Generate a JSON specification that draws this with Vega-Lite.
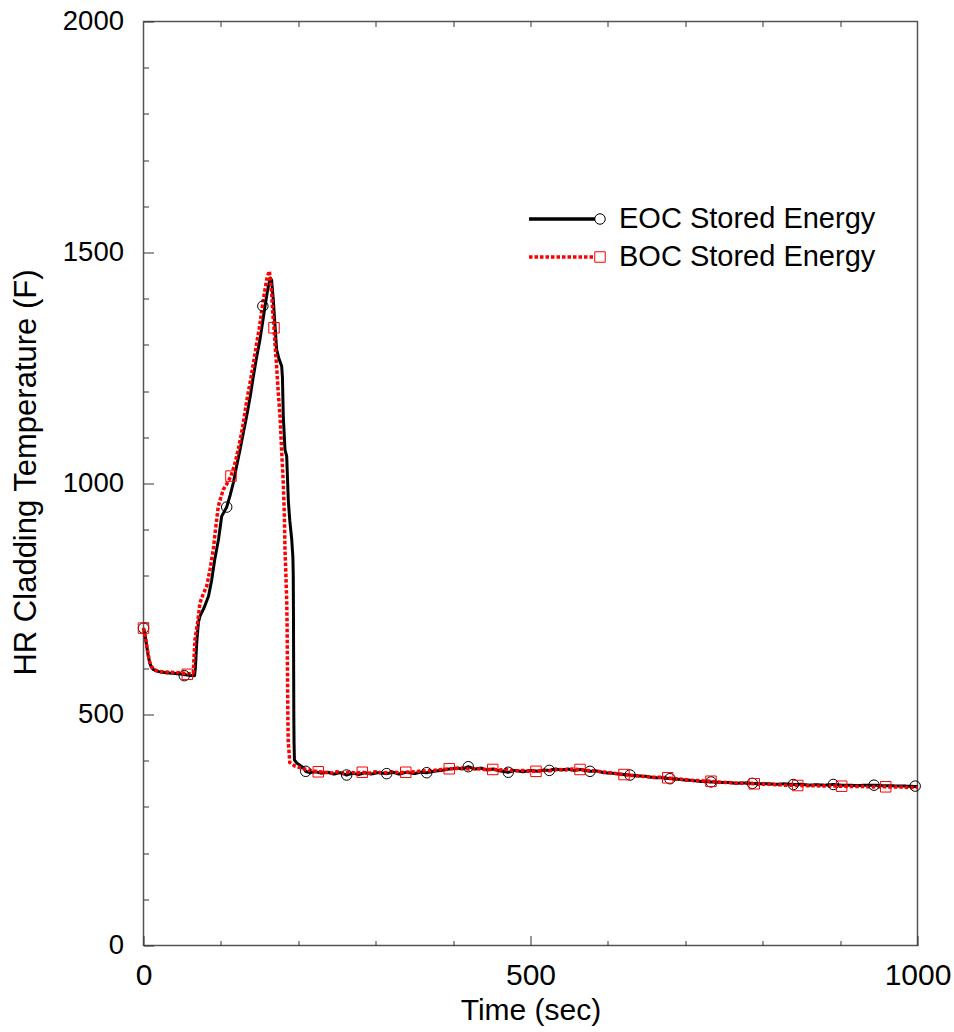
{
  "$schema": "https://vega.github.io/schema/vega-lite/v6.json",
  "width": 774,
  "height": 924,
  "autosize": "none",
  "padding": {"left": 143.5, "top": 21.5, "right": 36.5, "bottom": 86.5},
  "background": "white",
  "config": {
    "view": {"stroke": "#555", "strokeWidth": 1.5},
    "axis": {
      "labelFont": "Liberation Sans",
      "titleFont": "Liberation Sans",
      "labelColor": "black",
      "titleColor": "black",
      "titleFontWeight": "normal",
      "grid": false,
      "domain": false,
      "tickColor": "#333",
      "tickWidth": 1
    }
  },
  "datasets": {
    "eoc": [
      {"t": 0, "T": 687, "s": "EOC Stored Energy"}, {"t": 2, "T": 672, "s": "EOC Stored Energy"}, {"t": 4, "T": 650, "s": "EOC Stored Energy"},
      {"t": 6, "T": 628, "s": "EOC Stored Energy"}, {"t": 8, "T": 612, "s": "EOC Stored Energy"}, {"t": 10, "T": 603, "s": "EOC Stored Energy"},
      {"t": 13, "T": 597, "s": "EOC Stored Energy"}, {"t": 17, "T": 594, "s": "EOC Stored Energy"}, {"t": 22, "T": 592, "s": "EOC Stored Energy"},
      {"t": 30, "T": 590, "s": "EOC Stored Energy"}, {"t": 40, "T": 589, "s": "EOC Stored Energy"}, {"t": 50, "T": 587, "s": "EOC Stored Energy"},
      {"t": 58, "T": 585, "s": "EOC Stored Energy"}, {"t": 64, "T": 584, "s": "EOC Stored Energy"}, {"t": 66, "T": 584, "s": "EOC Stored Energy"},
      {"t": 67, "T": 600, "s": "EOC Stored Energy"}, {"t": 69, "T": 660, "s": "EOC Stored Energy"}, {"t": 71, "T": 700, "s": "EOC Stored Energy"},
      {"t": 73, "T": 713, "s": "EOC Stored Energy"}, {"t": 78, "T": 730, "s": "EOC Stored Energy"}, {"t": 84, "T": 756, "s": "EOC Stored Energy"},
      {"t": 88, "T": 790, "s": "EOC Stored Energy"}, {"t": 92, "T": 835, "s": "EOC Stored Energy"}, {"t": 97, "T": 880, "s": "EOC Stored Energy"},
      {"t": 101, "T": 929, "s": "EOC Stored Energy"}, {"t": 107.5, "T": 949, "s": "EOC Stored Energy"}, {"t": 112, "T": 975, "s": "EOC Stored Energy"},
      {"t": 116, "T": 1001, "s": "EOC Stored Energy"}, {"t": 120, "T": 1035, "s": "EOC Stored Energy"}, {"t": 124.7, "T": 1073, "s": "EOC Stored Energy"},
      {"t": 129, "T": 1110, "s": "EOC Stored Energy"}, {"t": 133.3, "T": 1146, "s": "EOC Stored Energy"}, {"t": 138, "T": 1190, "s": "EOC Stored Energy"},
      {"t": 141.9, "T": 1232, "s": "EOC Stored Energy"}, {"t": 146, "T": 1272, "s": "EOC Stored Energy"}, {"t": 150.5, "T": 1312, "s": "EOC Stored Energy"},
      {"t": 154, "T": 1350, "s": "EOC Stored Energy"}, {"t": 157, "T": 1384, "s": "EOC Stored Energy"}, {"t": 160, "T": 1415, "s": "EOC Stored Energy"},
      {"t": 162, "T": 1432, "s": "EOC Stored Energy"}, {"t": 164, "T": 1445, "s": "EOC Stored Energy"}, {"t": 165.5, "T": 1440, "s": "EOC Stored Energy"},
      {"t": 167.7, "T": 1398, "s": "EOC Stored Energy"}, {"t": 170, "T": 1340, "s": "EOC Stored Energy"}, {"t": 172, "T": 1290, "s": "EOC Stored Energy"},
      {"t": 175, "T": 1270, "s": "EOC Stored Energy"}, {"t": 178.5, "T": 1254, "s": "EOC Stored Energy"}, {"t": 179.5, "T": 1230, "s": "EOC Stored Energy"},
      {"t": 180.6, "T": 1146, "s": "EOC Stored Energy"}, {"t": 182.8, "T": 1073, "s": "EOC Stored Energy"}, {"t": 185, "T": 1059, "s": "EOC Stored Energy"},
      {"t": 187.1, "T": 963, "s": "EOC Stored Energy"}, {"t": 189, "T": 920, "s": "EOC Stored Energy"}, {"t": 191.5, "T": 879, "s": "EOC Stored Energy"},
      {"t": 193, "T": 840, "s": "EOC Stored Energy"}, {"t": 193.5, "T": 800, "s": "EOC Stored Energy"}, {"t": 193.8, "T": 700, "s": "EOC Stored Energy"},
      {"t": 194, "T": 600, "s": "EOC Stored Energy"}, {"t": 194.2, "T": 500, "s": "EOC Stored Energy"}, {"t": 194.5, "T": 440, "s": "EOC Stored Energy"},
      {"t": 195, "T": 402, "s": "EOC Stored Energy"}, {"t": 198, "T": 395, "s": "EOC Stored Energy"}, {"t": 203, "T": 389, "s": "EOC Stored Energy"},
      {"t": 206.5, "T": 385, "s": "EOC Stored Energy"}, {"t": 209.6, "T": 377, "s": "EOC Stored Energy"}, {"t": 215, "T": 374, "s": "EOC Stored Energy"},
      {"t": 222, "T": 376, "s": "EOC Stored Energy"}, {"t": 230, "T": 373, "s": "EOC Stored Energy"}, {"t": 238, "T": 375, "s": "EOC Stored Energy"},
      {"t": 246, "T": 371, "s": "EOC Stored Energy"}, {"t": 254, "T": 374, "s": "EOC Stored Energy"}, {"t": 262.5, "T": 369, "s": "EOC Stored Energy"},
      {"t": 270, "T": 373, "s": "EOC Stored Energy"}, {"t": 278, "T": 370, "s": "EOC Stored Energy"}, {"t": 286, "T": 374, "s": "EOC Stored Energy"},
      {"t": 294, "T": 371, "s": "EOC Stored Energy"}, {"t": 302, "T": 374, "s": "EOC Stored Energy"}, {"t": 314.2, "T": 372, "s": "EOC Stored Energy"},
      {"t": 322, "T": 375, "s": "EOC Stored Energy"}, {"t": 330, "T": 371, "s": "EOC Stored Energy"}, {"t": 340, "T": 375, "s": "EOC Stored Energy"},
      {"t": 350, "T": 372, "s": "EOC Stored Energy"}, {"t": 358, "T": 375, "s": "EOC Stored Energy"}, {"t": 365.9, "T": 374, "s": "EOC Stored Energy"},
      {"t": 375, "T": 377, "s": "EOC Stored Energy"}, {"t": 385, "T": 379, "s": "EOC Stored Energy"}, {"t": 395, "T": 382, "s": "EOC Stored Energy"},
      {"t": 405, "T": 384, "s": "EOC Stored Energy"}, {"t": 412, "T": 382, "s": "EOC Stored Energy"}, {"t": 419.6, "T": 387, "s": "EOC Stored Energy"},
      {"t": 428, "T": 382, "s": "EOC Stored Energy"}, {"t": 436, "T": 384, "s": "EOC Stored Energy"}, {"t": 444, "T": 380, "s": "EOC Stored Energy"},
      {"t": 452, "T": 382, "s": "EOC Stored Energy"}, {"t": 460, "T": 378, "s": "EOC Stored Energy"}, {"t": 471.3, "T": 375, "s": "EOC Stored Energy"},
      {"t": 480, "T": 379, "s": "EOC Stored Energy"}, {"t": 490, "T": 376, "s": "EOC Stored Energy"}, {"t": 500, "T": 379, "s": "EOC Stored Energy"},
      {"t": 510, "T": 377, "s": "EOC Stored Energy"}, {"t": 517, "T": 380, "s": "EOC Stored Energy"}, {"t": 524.3, "T": 379, "s": "EOC Stored Energy"},
      {"t": 532, "T": 382, "s": "EOC Stored Energy"}, {"t": 540, "T": 380, "s": "EOC Stored Energy"}, {"t": 548, "T": 382, "s": "EOC Stored Energy"},
      {"t": 556, "T": 379, "s": "EOC Stored Energy"}, {"t": 565, "T": 381, "s": "EOC Stored Energy"}, {"t": 576.9, "T": 377, "s": "EOC Stored Energy"},
      {"t": 585, "T": 378, "s": "EOC Stored Energy"}, {"t": 595, "T": 374, "s": "EOC Stored Energy"}, {"t": 605, "T": 373, "s": "EOC Stored Energy"},
      {"t": 615, "T": 371, "s": "EOC Stored Energy"}, {"t": 628.6, "T": 369, "s": "EOC Stored Energy"}, {"t": 640, "T": 367, "s": "EOC Stored Energy"},
      {"t": 650, "T": 366, "s": "EOC Stored Energy"}, {"t": 660, "T": 363, "s": "EOC Stored Energy"}, {"t": 670, "T": 363, "s": "EOC Stored Energy"},
      {"t": 680.2, "T": 361, "s": "EOC Stored Energy"}, {"t": 690, "T": 360, "s": "EOC Stored Energy"}, {"t": 700, "T": 358, "s": "EOC Stored Energy"},
      {"t": 710, "T": 357, "s": "EOC Stored Energy"}, {"t": 720, "T": 355, "s": "EOC Stored Energy"}, {"t": 733.2, "T": 354, "s": "EOC Stored Energy"},
      {"t": 745, "T": 353, "s": "EOC Stored Energy"}, {"t": 755, "T": 353, "s": "EOC Stored Energy"}, {"t": 765, "T": 351, "s": "EOC Stored Energy"},
      {"t": 775, "T": 352, "s": "EOC Stored Energy"}, {"t": 786.6, "T": 351, "s": "EOC Stored Energy"}, {"t": 797, "T": 350, "s": "EOC Stored Energy"},
      {"t": 808, "T": 350, "s": "EOC Stored Energy"}, {"t": 818, "T": 349, "s": "EOC Stored Energy"}, {"t": 828, "T": 350, "s": "EOC Stored Energy"},
      {"t": 839.5, "T": 348.5, "s": "EOC Stored Energy"}, {"t": 850, "T": 349, "s": "EOC Stored Energy"}, {"t": 860, "T": 347, "s": "EOC Stored Energy"},
      {"t": 870, "T": 348, "s": "EOC Stored Energy"}, {"t": 880, "T": 347, "s": "EOC Stored Energy"}, {"t": 891.2, "T": 348.5, "s": "EOC Stored Energy"},
      {"t": 902, "T": 347, "s": "EOC Stored Energy"}, {"t": 912, "T": 347, "s": "EOC Stored Energy"}, {"t": 922, "T": 346, "s": "EOC Stored Energy"},
      {"t": 932, "T": 347, "s": "EOC Stored Energy"}, {"t": 943.8, "T": 347, "s": "EOC Stored Energy"}, {"t": 955, "T": 346, "s": "EOC Stored Energy"},
      {"t": 965, "T": 346, "s": "EOC Stored Energy"}, {"t": 975, "T": 345, "s": "EOC Stored Energy"}, {"t": 985, "T": 345, "s": "EOC Stored Energy"},
      {"t": 1000, "T": 344, "s": "EOC Stored Energy"}
    ],
    "boc": [
      {"t": 0, "T": 687, "s": "BOC Stored Energy"}, {"t": 2, "T": 672, "s": "BOC Stored Energy"}, {"t": 4, "T": 652, "s": "BOC Stored Energy"},
      {"t": 6, "T": 630, "s": "BOC Stored Energy"}, {"t": 8, "T": 614, "s": "BOC Stored Energy"}, {"t": 10, "T": 605, "s": "BOC Stored Energy"},
      {"t": 13, "T": 598, "s": "BOC Stored Energy"}, {"t": 17, "T": 595, "s": "BOC Stored Energy"}, {"t": 22, "T": 593, "s": "BOC Stored Energy"},
      {"t": 30, "T": 592, "s": "BOC Stored Energy"}, {"t": 40, "T": 591, "s": "BOC Stored Energy"}, {"t": 50, "T": 590, "s": "BOC Stored Energy"},
      {"t": 56.6, "T": 588, "s": "BOC Stored Energy"}, {"t": 62, "T": 588, "s": "BOC Stored Energy"}, {"t": 64.3, "T": 590, "s": "BOC Stored Energy"},
      {"t": 65.5, "T": 630, "s": "BOC Stored Energy"}, {"t": 66.5, "T": 662, "s": "BOC Stored Energy"}, {"t": 70, "T": 700, "s": "BOC Stored Energy"},
      {"t": 73, "T": 742, "s": "BOC Stored Energy"}, {"t": 77, "T": 760, "s": "BOC Stored Energy"}, {"t": 81.7, "T": 778, "s": "BOC Stored Energy"},
      {"t": 86, "T": 815, "s": "BOC Stored Energy"}, {"t": 90.2, "T": 857, "s": "BOC Stored Energy"}, {"t": 93, "T": 900, "s": "BOC Stored Energy"},
      {"t": 96.7, "T": 951, "s": "BOC Stored Energy"}, {"t": 100, "T": 970, "s": "BOC Stored Energy"}, {"t": 103.1, "T": 987, "s": "BOC Stored Energy"},
      {"t": 108, "T": 1000, "s": "BOC Stored Energy"}, {"t": 113, "T": 1016, "s": "BOC Stored Energy"}, {"t": 117, "T": 1037, "s": "BOC Stored Energy"},
      {"t": 120.4, "T": 1059, "s": "BOC Stored Energy"}, {"t": 125, "T": 1095, "s": "BOC Stored Energy"}, {"t": 129, "T": 1131, "s": "BOC Stored Energy"},
      {"t": 133, "T": 1175, "s": "BOC Stored Energy"}, {"t": 137.6, "T": 1218, "s": "BOC Stored Energy"}, {"t": 142, "T": 1260, "s": "BOC Stored Energy"},
      {"t": 146.3, "T": 1304, "s": "BOC Stored Energy"}, {"t": 150, "T": 1340, "s": "BOC Stored Energy"}, {"t": 154.8, "T": 1398, "s": "BOC Stored Energy"},
      {"t": 157, "T": 1420, "s": "BOC Stored Energy"}, {"t": 159.2, "T": 1442, "s": "BOC Stored Energy"}, {"t": 161, "T": 1452, "s": "BOC Stored Energy"},
      {"t": 162.6, "T": 1460, "s": "BOC Stored Energy"}, {"t": 164, "T": 1440, "s": "BOC Stored Energy"}, {"t": 165.6, "T": 1413, "s": "BOC Stored Energy"},
      {"t": 167, "T": 1370, "s": "BOC Stored Energy"}, {"t": 168.6, "T": 1337, "s": "BOC Stored Energy"}, {"t": 170, "T": 1300, "s": "BOC Stored Energy"},
      {"t": 172, "T": 1254, "s": "BOC Stored Energy"}, {"t": 174, "T": 1200, "s": "BOC Stored Energy"}, {"t": 176.4, "T": 1146, "s": "BOC Stored Energy"},
      {"t": 178.5, "T": 1070, "s": "BOC Stored Energy"}, {"t": 180.6, "T": 1001, "s": "BOC Stored Energy"}, {"t": 182, "T": 930, "s": "BOC Stored Energy"},
      {"t": 182.8, "T": 857, "s": "BOC Stored Energy"}, {"t": 184, "T": 800, "s": "BOC Stored Energy"}, {"t": 185, "T": 749, "s": "BOC Stored Energy"},
      {"t": 185.5, "T": 700, "s": "BOC Stored Energy"}, {"t": 186, "T": 600, "s": "BOC Stored Energy"}, {"t": 186.5, "T": 500, "s": "BOC Stored Energy"},
      {"t": 187, "T": 440, "s": "BOC Stored Energy"}, {"t": 188, "T": 420, "s": "BOC Stored Energy"}, {"t": 189, "T": 396, "s": "BOC Stored Energy"},
      {"t": 195, "T": 389, "s": "BOC Stored Energy"}, {"t": 202, "T": 385, "s": "BOC Stored Energy"}, {"t": 210, "T": 381, "s": "BOC Stored Energy"},
      {"t": 218, "T": 378, "s": "BOC Stored Energy"}, {"t": 225.8, "T": 376, "s": "BOC Stored Energy"}, {"t": 234, "T": 375, "s": "BOC Stored Energy"},
      {"t": 242, "T": 373, "s": "BOC Stored Energy"}, {"t": 250, "T": 376, "s": "BOC Stored Energy"}, {"t": 258, "T": 373, "s": "BOC Stored Energy"},
      {"t": 266, "T": 375, "s": "BOC Stored Energy"}, {"t": 274, "T": 373, "s": "BOC Stored Energy"}, {"t": 282.7, "T": 375, "s": "BOC Stored Energy"},
      {"t": 292, "T": 373, "s": "BOC Stored Energy"}, {"t": 300, "T": 376, "s": "BOC Stored Energy"}, {"t": 310, "T": 373, "s": "BOC Stored Energy"},
      {"t": 320, "T": 376, "s": "BOC Stored Energy"}, {"t": 330, "T": 374, "s": "BOC Stored Energy"}, {"t": 338.8, "T": 375, "s": "BOC Stored Energy"},
      {"t": 348, "T": 376, "s": "BOC Stored Energy"}, {"t": 356, "T": 377, "s": "BOC Stored Energy"}, {"t": 365, "T": 378, "s": "BOC Stored Energy"},
      {"t": 375, "T": 379, "s": "BOC Stored Energy"}, {"t": 385, "T": 381, "s": "BOC Stored Energy"}, {"t": 395, "T": 382.5, "s": "BOC Stored Energy"},
      {"t": 403, "T": 383, "s": "BOC Stored Energy"}, {"t": 412, "T": 384, "s": "BOC Stored Energy"}, {"t": 420, "T": 382, "s": "BOC Stored Energy"},
      {"t": 430, "T": 383, "s": "BOC Stored Energy"}, {"t": 440, "T": 381, "s": "BOC Stored Energy"}, {"t": 451.2, "T": 381, "s": "BOC Stored Energy"},
      {"t": 460, "T": 380, "s": "BOC Stored Energy"}, {"t": 470, "T": 381, "s": "BOC Stored Energy"}, {"t": 480, "T": 378, "s": "BOC Stored Energy"},
      {"t": 490, "T": 379, "s": "BOC Stored Energy"}, {"t": 498, "T": 377, "s": "BOC Stored Energy"}, {"t": 507.1, "T": 377, "s": "BOC Stored Energy"},
      {"t": 516, "T": 379, "s": "BOC Stored Energy"}, {"t": 525, "T": 378, "s": "BOC Stored Energy"}, {"t": 535, "T": 381, "s": "BOC Stored Energy"},
      {"t": 545, "T": 380, "s": "BOC Stored Energy"}, {"t": 554, "T": 382, "s": "BOC Stored Energy"}, {"t": 564, "T": 381, "s": "BOC Stored Energy"},
      {"t": 572, "T": 379, "s": "BOC Stored Energy"}, {"t": 582, "T": 378, "s": "BOC Stored Energy"}, {"t": 592, "T": 376, "s": "BOC Stored Energy"},
      {"t": 602, "T": 374, "s": "BOC Stored Energy"}, {"t": 611, "T": 372, "s": "BOC Stored Energy"}, {"t": 620.8, "T": 370, "s": "BOC Stored Energy"},
      {"t": 630, "T": 368, "s": "BOC Stored Energy"}, {"t": 640, "T": 367, "s": "BOC Stored Energy"}, {"t": 650, "T": 365, "s": "BOC Stored Energy"},
      {"t": 660, "T": 364, "s": "BOC Stored Energy"}, {"t": 668, "T": 364, "s": "BOC Stored Energy"}, {"t": 677.3, "T": 363, "s": "BOC Stored Energy"},
      {"t": 686, "T": 361, "s": "BOC Stored Energy"}, {"t": 695, "T": 360, "s": "BOC Stored Energy"}, {"t": 705, "T": 358, "s": "BOC Stored Energy"},
      {"t": 715, "T": 357, "s": "BOC Stored Energy"}, {"t": 724, "T": 356, "s": "BOC Stored Energy"}, {"t": 733.2, "T": 355.6, "s": "BOC Stored Energy"},
      {"t": 742, "T": 354, "s": "BOC Stored Energy"}, {"t": 752, "T": 353, "s": "BOC Stored Energy"}, {"t": 762, "T": 352, "s": "BOC Stored Energy"},
      {"t": 770, "T": 351, "s": "BOC Stored Energy"}, {"t": 780, "T": 351, "s": "BOC Stored Energy"}, {"t": 789.1, "T": 350, "s": "BOC Stored Energy"},
      {"t": 798, "T": 349, "s": "BOC Stored Energy"}, {"t": 808, "T": 349, "s": "BOC Stored Energy"}, {"t": 818, "T": 348, "s": "BOC Stored Energy"},
      {"t": 828, "T": 347, "s": "BOC Stored Energy"}, {"t": 836, "T": 347, "s": "BOC Stored Energy"}, {"t": 845.2, "T": 346.3, "s": "BOC Stored Energy"},
      {"t": 855, "T": 346, "s": "BOC Stored Energy"}, {"t": 865, "T": 346, "s": "BOC Stored Energy"}, {"t": 875, "T": 345, "s": "BOC Stored Energy"},
      {"t": 885, "T": 345, "s": "BOC Stored Energy"}, {"t": 893, "T": 345, "s": "BOC Stored Energy"}, {"t": 902, "T": 344.8, "s": "BOC Stored Energy"},
      {"t": 912, "T": 344, "s": "BOC Stored Energy"}, {"t": 922, "T": 344, "s": "BOC Stored Energy"}, {"t": 932, "T": 344, "s": "BOC Stored Energy"},
      {"t": 942, "T": 343, "s": "BOC Stored Energy"}, {"t": 950, "T": 344, "s": "BOC Stored Energy"}, {"t": 958.9, "T": 343.5, "s": "BOC Stored Energy"},
      {"t": 968, "T": 343, "s": "BOC Stored Energy"}, {"t": 978, "T": 343, "s": "BOC Stored Energy"}, {"t": 988, "T": 342, "s": "BOC Stored Energy"},
      {"t": 1000, "T": 342, "s": "BOC Stored Energy"}
    ],
    "markers": [
      {"t": 0, "T": 687, "c": "EOC Stored Energy"}, {"t": 52.7, "T": 584, "c": "EOC Stored Energy"},
      {"t": 107.5, "T": 949, "c": "EOC Stored Energy"}, {"t": 154.2, "T": 1384, "c": "EOC Stored Energy"},
      {"t": 209.6, "T": 377, "c": "EOC Stored Energy"}, {"t": 262.5, "T": 369, "c": "EOC Stored Energy"},
      {"t": 314.2, "T": 372, "c": "EOC Stored Energy"}, {"t": 365.9, "T": 374, "c": "EOC Stored Energy"},
      {"t": 419.6, "T": 387, "c": "EOC Stored Energy"}, {"t": 471.3, "T": 375, "c": "EOC Stored Energy"},
      {"t": 524.3, "T": 379, "c": "EOC Stored Energy"}, {"t": 576.9, "T": 377, "c": "EOC Stored Energy"},
      {"t": 628.6, "T": 369, "c": "EOC Stored Energy"}, {"t": 680.2, "T": 361, "c": "EOC Stored Energy"},
      {"t": 733.2, "T": 354, "c": "EOC Stored Energy"}, {"t": 786.6, "T": 351, "c": "EOC Stored Energy"},
      {"t": 839.5, "T": 348.5, "c": "EOC Stored Energy"}, {"t": 891.2, "T": 348.5, "c": "EOC Stored Energy"},
      {"t": 943.8, "T": 347, "c": "EOC Stored Energy"}, {"t": 997, "T": 345, "c": "EOC Stored Energy"},
      {"t": 0, "T": 687, "c": "BOC Stored Energy"}, {"t": 56.6, "T": 587, "c": "BOC Stored Energy"},
      {"t": 113, "T": 1016, "c": "BOC Stored Energy"}, {"t": 168.6, "T": 1337, "c": "BOC Stored Energy"},
      {"t": 225.8, "T": 376, "c": "BOC Stored Energy"}, {"t": 282.7, "T": 375, "c": "BOC Stored Energy"},
      {"t": 338.8, "T": 375, "c": "BOC Stored Energy"}, {"t": 395, "T": 382.5, "c": "BOC Stored Energy"},
      {"t": 451.2, "T": 381, "c": "BOC Stored Energy"}, {"t": 507.1, "T": 377, "c": "BOC Stored Energy"},
      {"t": 564, "T": 381, "c": "BOC Stored Energy"}, {"t": 620.8, "T": 370, "c": "BOC Stored Energy"},
      {"t": 677.3, "T": 363, "c": "BOC Stored Energy"}, {"t": 733.2, "T": 355.6, "c": "BOC Stored Energy"},
      {"t": 789.1, "T": 350, "c": "BOC Stored Energy"}, {"t": 845.2, "T": 346.3, "c": "BOC Stored Energy"},
      {"t": 902, "T": 344.8, "c": "BOC Stored Energy"}, {"t": 958.9, "T": 343.5, "c": "BOC Stored Energy"}
    ]
  },
  "resolve": {"axis": {"x": "independent", "y": "independent"}},
  "layer": [
    {
      "data": {"name": "eoc"},
      "mark": {"type": "line", "strokeWidth": 3, "strokeJoin": "round"},
      "encoding": {
        "x": {
          "field": "t", "type": "quantitative",
          "scale": {"domain": [0, 1000], "nice": false, "zero": false},
          "axis": {
            "orient": "bottom", "values": [0, 500, 1000], "format": "d", "tickSize": -10,
            "labelPadding": 25, "labelFontSize": 30, "labelFlush": false,
            "title": "Time (sec)", "titleFontSize": 30, "titlePadding": 5
          }
        },
        "y": {
          "field": "T", "type": "quantitative",
          "scale": {"domain": [0, 2000], "nice": false, "zero": false},
          "axis": {
            "orient": "left", "values": [0, 500, 1000, 1500, 2000], "format": "d", "tickSize": -10,
            "labelPadding": 30, "labelFontSize": 27.5, "labelFlush": false,
            "title": "HR Cladding Temperature (F)", "titleFontSize": 31, "titlePadding": 20, "titleY": 450.5
          }
        },
        "color": {
          "field": "s", "type": "nominal",
          "scale": {"domain": ["EOC Stored Energy", "BOC Stored Energy"], "range": ["black", "#ff0000"]},
          "legend": {
            "orient": "none", "legendX": 383.5, "legendY": 182.5, "title": null, "padding": 0,
            "symbolType": "stroke", "symbolSize": 4356, "symbolStrokeWidth": 3.5,
            "labelFont": "Liberation Sans", "labelFontSize": 29, "labelColor": "black", "labelLimit": 400,
            "labelOffset": 22, "clipHeight": 30, "rowPadding": 8
          }
        },
        "strokeDash": {
          "field": "s", "type": "nominal",
          "scale": {"domain": ["EOC Stored Energy", "BOC Stored Energy"], "range": [[1, 0], [3.5, 2]]}
        }
      }
    },
    {
      "data": {"name": "boc"},
      "mark": {"type": "line", "strokeWidth": 3.5, "strokeJoin": "round"},
      "encoding": {
        "x": {
          "field": "t", "type": "quantitative",
          "axis": {
            "orient": "bottom", "values": [100, 200, 300, 400, 600, 700, 800, 900],
            "tickSize": -5, "labels": false, "title": null
          }
        },
        "y": {
          "field": "T", "type": "quantitative",
          "axis": {
            "orient": "left",
            "values": [100, 200, 300, 400, 600, 700, 800, 900, 1100, 1200, 1300, 1400, 1600, 1700, 1800, 1900],
            "tickSize": -5, "labels": false, "title": null
          }
        },
        "color": {
          "field": "s", "type": "nominal",
          "scale": {"domain": ["EOC Stored Energy", "BOC Stored Energy"], "range": ["black", "#ff0000"]}
        },
        "strokeDash": {
          "field": "s", "type": "nominal",
          "scale": {"domain": ["EOC Stored Energy", "BOC Stored Energy"], "range": [[1, 0], [3.5, 2]]}
        }
      }
    },
    {
      "data": {"name": "markers"},
      "mark": {"type": "point", "filled": false, "size": 110, "strokeWidth": 1, "opacity": 1},
      "encoding": {
        "x": {
          "field": "t", "type": "quantitative",
          "axis": {
            "orient": "top", "values": [100, 200, 300, 400, 500, 600, 700, 800, 900],
            "tickSize": -5, "labels": false, "title": null
          }
        },
        "y": {"field": "T", "type": "quantitative", "axis": null},
        "shape": {
          "field": "c", "type": "nominal", "sort": "descending",
          "scale": {"range": ["circle", "square"]},
          "legend": {
            "orient": "none", "legendX": 450.5, "legendY": 182.5, "title": null, "padding": 0,
            "labelExpr": "''", "labelFontSize": 10, "symbolSize": 110, "symbolStrokeWidth": 1,
            "symbolFillColor": "transparent", "clipHeight": 30, "rowPadding": 8
          }
        },
        "stroke": {
          "field": "c", "type": "nominal", "sort": "descending",
          "scale": {"range": ["black", "#ff0000"]}
        }
      }
    }
  ]
}
